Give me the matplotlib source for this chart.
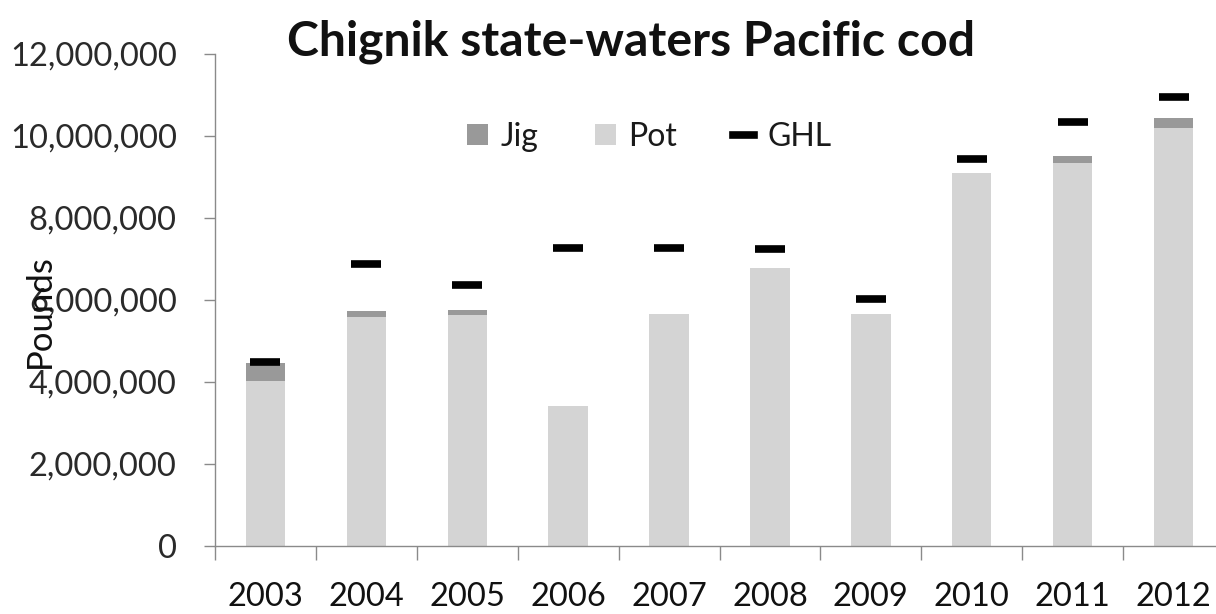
import matplotlib
matplotlib.use("Agg")
import matplotlib.pyplot as plt
from matplotlib.patches import Patch
from matplotlib.lines import Line2D
from matplotlib.ticker import FuncFormatter, FixedLocator
import numpy as np

years = ["2003", "2004", "2005", "2006", "2007", "2008", "2009", "2010", "2011", "2012"]
pot = [4030000, 5590000, 5640000, 3410000, 5670000, 6790000, 5650000, 9100000, 9330000, 10190000]
jig = [430000, 140000, 120000, 0, 0, 0, 0, 0, 190000, 240000]
ghl = [4500000, 6870000, 6370000, 7270000, 7270000, 7250000, 6030000, 9430000, 10350000, 10950000]
yticks = [0, 2000000, 4000000, 6000000, 8000000, 10000000, 12000000]

plt.rcParams['font.family'] = ['Lato', 'DejaVu Sans']

fig = plt.figure(figsize=(12.16, 6.14), dpi=100)
ax = fig.add_axes([215/1216, 68/614, 1009/1216, 492/614])

x = np.arange(len(years))
pot_c = '#d4d4d4'
jig_c = '#999999'
ax.bar(x, pot, width=0.39, color=pot_c, zorder=2)
ax.bar(x, jig, width=0.39, bottom=pot, color=jig_c, zorder=2)
ax.plot(x, ghl, linestyle='none', marker='_', markersize=21, markeredgewidth=5.5,
        color='black', zorder=3)

ax.set_xlim(-0.5, len(years) - 0.5)
ax.set_ylim(0, 12000000)
ax.yaxis.set_major_locator(FixedLocator(yticks))
ax.yaxis.set_major_formatter(FuncFormatter(lambda v, p: f"{int(v):,}"))
ax.set_xticks(x)
ax.set_xticklabels(years)
ax.xaxis.set_minor_locator(FixedLocator(np.arange(-0.5, len(years), 1.0)))

for s in ['top', 'right']:
    ax.spines[s].set_visible(False)
for s in ['left', 'bottom']:
    ax.spines[s].set_color('#8a8a8a')
    ax.spines[s].set_linewidth(1.0)

ax.tick_params(axis='y', which='major', length=8, width=1, color='#8a8a8a',
               labelsize=23.5, labelcolor='#2a2a2a', pad=19.5)
ax.tick_params(axis='x', which='major', length=0, labelsize=23.5, labelcolor='#111111', pad=26)
ax.tick_params(axis='x', which='minor', length=10, width=1, color='#8a8a8a')

fig.text(631/1216, 1 - 56/614, "Chignik state-waters Pacific cod", ha='center', va='baseline',
         fontsize=34.7, fontweight='bold', color='#111111')
fig.text(40/1216, 1 - 311/614, "Pounds", rotation=90, ha='center', va='center',
         fontsize=25, color='#111111')

handles = [Patch(facecolor=jig_c, edgecolor='none'),
           Patch(facecolor=pot_c, edgecolor='none'),
           Line2D([0], [0], color='black', linewidth=5.5)]
leg = fig.legend(handles, ['Jig', 'Pot', 'GHL'], loc='center', ncol=3,
                 bbox_to_anchor=(649/1216, 1 - 137/614), frameon=False,
                 fontsize=23, handlelength=0.66, handleheight=0.63, handletextpad=0.4,
                 columnspacing=1.75)
for t in leg.get_texts():
    t.set_color('#1a1a1a')

fig.savefig("out.png", dpi=100)
